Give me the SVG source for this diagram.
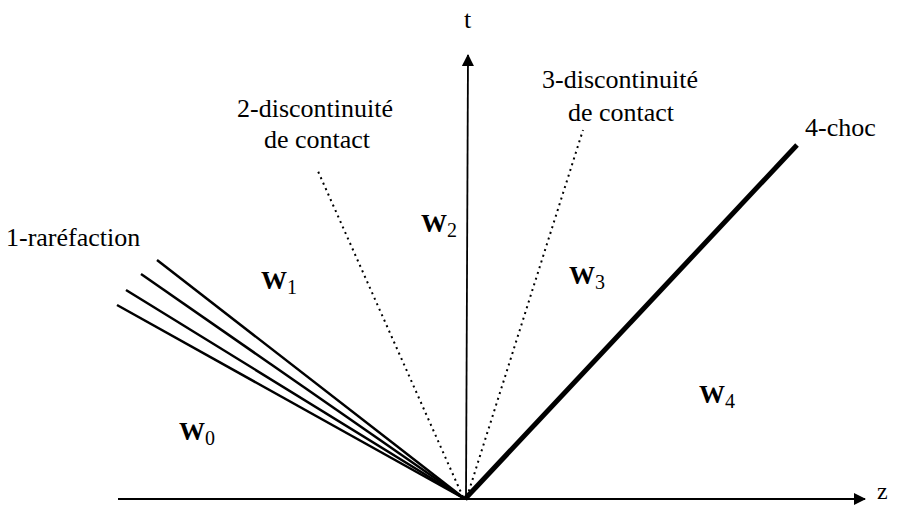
<svg xmlns="http://www.w3.org/2000/svg" width="905" height="506" viewBox="0 0 905 506">
<style>
text{font-family:"Liberation Serif","Times New Roman",Tinos,"DejaVu Serif",serif;fill:#000}
.lbl{font-size:26px}
.w{font-size:26px;font-weight:bold}
.sub{font-size:20px;font-weight:normal}
.fan{stroke:#000;stroke-width:2.5;fill:none}
.dot{stroke:#000;stroke-width:2;stroke-dasharray:2 4;fill:none}
.axis{stroke:#000;stroke-width:1.8;fill:none}
</style>
<defs>
<marker id="arr" viewBox="0 0 12 12" refX="11" refY="6" markerWidth="12" markerHeight="12" markerUnits="userSpaceOnUse" orient="auto">
<path d="M0,0 L12,6 L0,12 Z" fill="#000"/>
</marker>
</defs>
<rect width="905" height="506" fill="#fff"/>
<g id="connectors">
<line class="axis" x1="118" y1="499" x2="865" y2="499" marker-end="url(#arr)"/>
<line class="axis" x1="466" y1="499" x2="468" y2="55" marker-end="url(#arr)"/>
<line class="fan" x1="465" y1="499" x2="157" y2="260"/>
<line class="fan" x1="465" y1="499" x2="141" y2="274"/>
<line class="fan" x1="465" y1="499" x2="126" y2="290"/>
<line class="fan" x1="465" y1="499" x2="117" y2="305"/>
<line class="dot" x1="463" y1="497" x2="317" y2="169"/>
<line class="dot" x1="467" y1="497" x2="583" y2="130"/>
<line x1="465" y1="499" x2="797" y2="145" stroke="#000" stroke-width="5"/>
</g>
<g id="labels">
<text class="lbl" x="464" y="28">t</text>
<text x="877" y="499" style="font-size:24px">z</text>
<text class="lbl" x="315" y="117" text-anchor="middle">2-discontinuité</text>
<text class="lbl" x="317" y="148" text-anchor="middle">de contact</text>
<text class="lbl" x="620" y="88" text-anchor="middle">3-discontinuité</text>
<text class="lbl" x="621" y="121" text-anchor="middle">de contact</text>
<text class="lbl" x="805" y="136">4-choc</text>
<text class="lbl" x="6" y="246">1-raréfaction</text>
</g>
<g id="W0"><text class="w" x="179" y="440">W<tspan class="sub" dy="5">0</tspan></text></g>
<g id="W1"><text class="w" x="261" y="289">W<tspan class="sub" dy="5">1</tspan></text></g>
<g id="W2"><text class="w" x="421" y="232">W<tspan class="sub" dy="5">2</tspan></text></g>
<g id="W3"><text class="w" x="569" y="284">W<tspan class="sub" dy="5">3</tspan></text></g>
<g id="W4"><text class="w" x="699" y="403">W<tspan class="sub" dy="5">4</tspan></text></g>
</svg>
